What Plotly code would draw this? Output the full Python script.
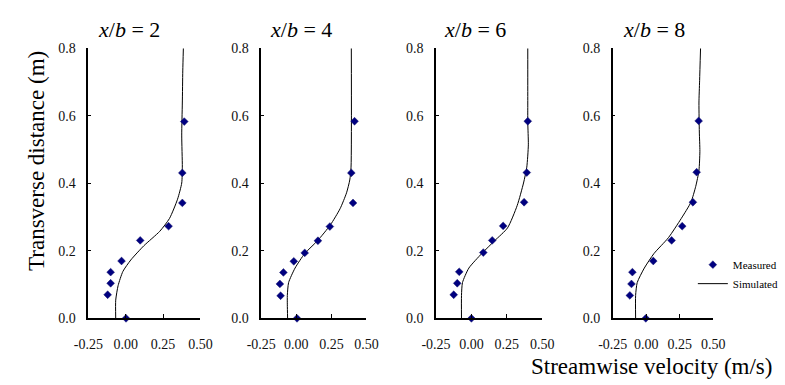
import plotly.graph_objects as go

W, H = 785, 385

titles = ["2", "4", "6", "8"]

# Measured points (velocity m/s, transverse distance m)
meas_v1 = [0.392, 0.379, 0.379, 0.287, 0.097, -0.028, -0.101, -0.101, -0.121, 0.002]
meas_y1 = [0.583, 0.431, 0.342, 0.273, 0.231, 0.170, 0.137, 0.104, 0.070, 0.0]
meas_v2 = [0.415, 0.392, 0.404, 0.239, 0.154, 0.060, -0.018, -0.092, -0.117, -0.112, 0.005]
meas_y2 = [0.584, 0.431, 0.342, 0.272, 0.230, 0.194, 0.169, 0.136, 0.102, 0.067, 0.0]
meas_v3 = [0.398, 0.391, 0.372, 0.224, 0.147, 0.084, -0.086, -0.100, -0.125, 0.000]
meas_y3 = [0.584, 0.432, 0.344, 0.274, 0.231, 0.195, 0.138, 0.104, 0.070, 0.0]
meas_v4 = [0.392, 0.377, 0.349, 0.269, 0.190, 0.053, -0.103, -0.110, -0.122, -0.003]
meas_y4 = [0.585, 0.433, 0.344, 0.273, 0.231, 0.170, 0.137, 0.102, 0.068, 0.0]

# Simulated profiles
sim_v1 = [-0.067, -0.067, -0.051, -0.019, 0.034, 0.121, 0.228, 0.293, 0.347, 0.375, 0.379, 0.375, 0.379, 0.382, 0.386]
sim_y1 = [0.0, 0.054, 0.097, 0.139, 0.173, 0.215, 0.258, 0.296, 0.353, 0.401, 0.448, 0.543, 0.638, 0.733, 0.8]
sim_v2 = [-0.062, -0.064, -0.064, -0.055, -0.009, 0.060, 0.151, 0.243, 0.312, 0.358, 0.381, 0.390, 0.392]
sim_y2 = [0.0, 0.040, 0.068, 0.106, 0.149, 0.192, 0.230, 0.277, 0.325, 0.372, 0.410, 0.448, 0.8]
sim_v3 = [-0.070, -0.070, -0.063, -0.018, 0.073, 0.164, 0.255, 0.323, 0.368, 0.391, 0.402, 0.398, 0.398, 0.398]
sim_y3 = [0.0, 0.068, 0.106, 0.149, 0.192, 0.230, 0.268, 0.334, 0.401, 0.448, 0.514, 0.581, 0.638, 0.8]
sim_v4 = [-0.079, -0.079, -0.067, -0.014, 0.058, 0.166, 0.262, 0.334, 0.370, 0.394, 0.401, 0.397, 0.394, 0.399, 0.406]
sim_y4 = [0.0, 0.068, 0.106, 0.149, 0.192, 0.239, 0.296, 0.344, 0.391, 0.438, 0.495, 0.552, 0.638, 0.704, 0.8]

x_ticks = [-0.25, 0.0, 0.25, 0.5]
x_tick_text = ["-0.25", "0.00", "0.25", "0.50"]
y_ticks = [0.0, 0.2, 0.4, 0.6, 0.8]
y_tick_text = ["0.0", "0.2", "0.4", "0.6", "0.8"]

meas_v = [meas_v1, meas_v2, meas_v3, meas_v4]
meas_y = [meas_y1, meas_y2, meas_y3, meas_y4]
sim_v = [sim_v1, sim_v2, sim_v3, sim_v4]
sim_y = [sim_y1, sim_y2, sim_y3, sim_y4]

FONT = "Liberation Serif"
px_domains = [(76, 192), (255, 364), (436, 546), (619, 723)]
title_cx = [118, 296, 476, 662]
y_dom = [1 - 324 / H, 1 - 43 / H]

fig = go.Figure()
for i in range(4):
    sfx = "" if i == 0 else str(i + 1)
    fig.add_trace(go.Scatter(
        x=sim_v[i], y=sim_y[i], mode="lines", name="Simulated",
        line=dict(color="black", width=1, shape="spline", smoothing=0.6),
        showlegend=(i == 0), legendrank=2,
        xaxis="x" + sfx, yaxis="y" + sfx))
    fig.add_trace(go.Scatter(
        x=meas_v[i], y=meas_y[i], mode="markers", name="Measured",
        marker=dict(symbol="diamond", size=6, color="#000080",
                    line=dict(color="#1c1c70", width=0.5)),
        cliponaxis=False, showlegend=(i == 0), legendrank=1,
        xaxis="x" + sfx, yaxis="y" + sfx))

    d = px_domains[i]
    xa = dict(domain=[d[0] / W, d[1] / W], range=[-0.25, 0.5],
              tickvals=x_ticks, ticktext=x_tick_text,
              showline=True, linecolor="black", linewidth=2,
              ticks="inside", ticklen=4, tickcolor="black", tickwidth=1,
              showgrid=False, zeroline=False, anchor="y" + sfx,
              tickfont=dict(family=FONT, size=14, color="#111111"),
              ticklabelstandoff=12, fixedrange=True)
    ya = dict(domain=y_dom, range=[0, 0.8], tickvals=y_ticks, ticktext=y_tick_text,
              showline=True, linecolor="black", linewidth=1.5,
              ticks="inside", ticklen=3, tickcolor="black", tickwidth=1,
              showgrid=False, zeroline=False, anchor="x" + sfx,
              tickfont=dict(family=FONT, size=14, color="#111111"),
              ticklabelstandoff=8, fixedrange=True)
    fig.layout["xaxis" + sfx] = xa
    fig.layout["yaxis" + sfx] = ya

    fig.add_annotation(text="<i>x</i>/<i>b</i> = " + titles[i],
                       x=title_cx[i] / W, y=1 - 23 / H, xref="paper", yref="paper",
                       xanchor="center", yanchor="middle", showarrow=False,
                       font=dict(family=FONT, size=22, color="black"))

fig.add_annotation(text="Transverse distance (m)", textangle=-90,
                   x=23 / W, y=1 - 160 / H, xref="paper", yref="paper",
                   xanchor="center", yanchor="middle", showarrow=False,
                   font=dict(family=FONT, size=23, color="black"))
fig.add_annotation(text="Streamwise velocity (m/s)",
                   x=785 / W, y=1 - 374 / H, xref="paper", yref="paper",
                   xanchor="right", yanchor="middle", showarrow=False,
                   borderpad=0,
                   font=dict(family=FONT, size=23, color="black"))

fig.update_layout(
    width=W, height=H, margin=dict(l=0, r=0, t=0, b=0),
    paper_bgcolor="white", plot_bgcolor="white",
    font=dict(family=FONT),
    showlegend=True,
    legend=dict(x=702 / W, y=1 - 253 / H, xanchor="left", yanchor="top",
                font=dict(family=FONT, size=11, color="black"),
                bgcolor="rgba(0,0,0,0)", tracegroupgap=0, itemwidth=30),
)

fig.write_html("out.html")
